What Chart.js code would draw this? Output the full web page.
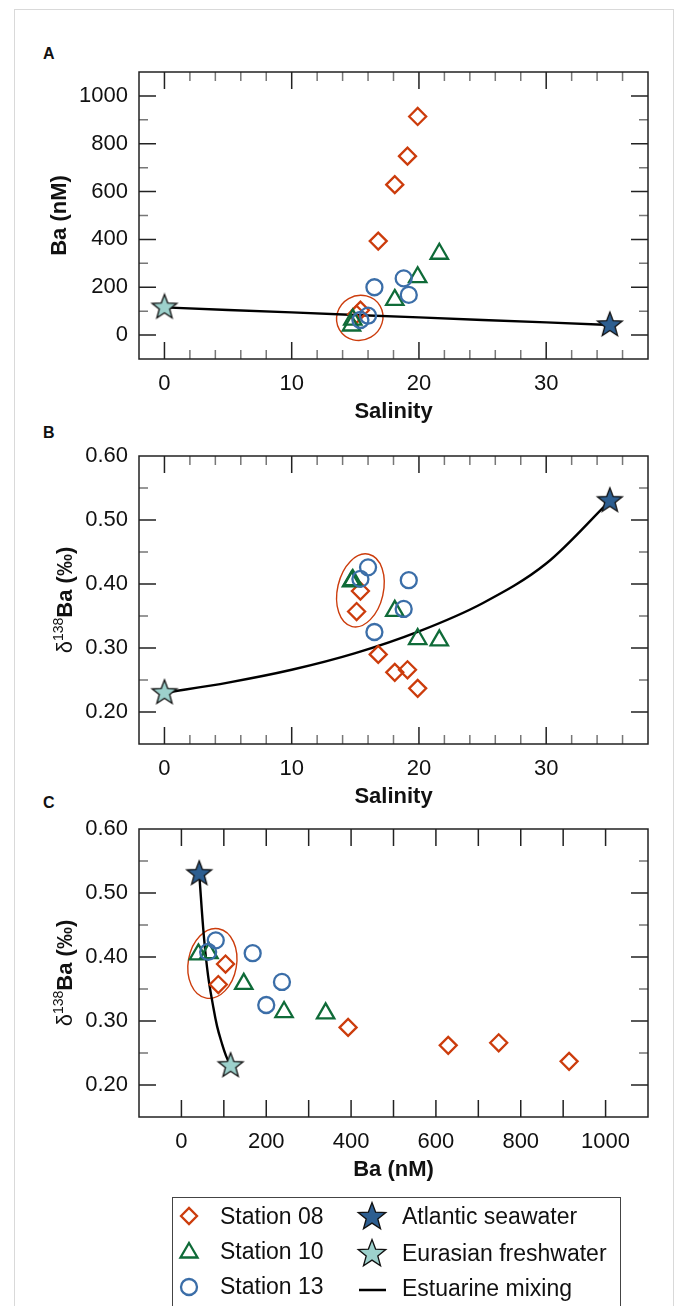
<!DOCTYPE html>
<html>
<head>
<meta charset="utf-8">
<title>Ba and d138Ba mixing</title>
<script src="https://cdn.jsdelivr.net/npm/chart.js@4.4.1/dist/chart.umd.min.js"></script>
<style>
  html, body { margin: 0; padding: 0; background: #fff; }
  body { width: 676px; height: 1306px; position: relative; overflow: hidden; font-family: "Liberation Sans", Arial, sans-serif; color: #111; }
  .page { position: absolute; left: 14px; top: 9px; width: 660px; height: 1340px; border: 1px solid #d9d9d9; box-sizing: border-box; }
  canvas.panel { position: absolute; left: 0; }
  .letter { position: absolute; left: 43px; font-weight: bold; font-size: 16px; line-height: 16px; }
  .legend { position: absolute; left: 172px; top: 1197px; width: 449px; height: 140px; border: 1px solid #444; box-sizing: border-box; }
  .item { position: absolute; font-size: 23px; line-height: 26px; white-space: nowrap; }
  svg.icons { position: absolute; left: 0; top: 0; }
</style>
</head>
<body>
<div class="page"></div>
<div class="letter" style="top:46px">A</div>
<div class="letter" style="top:425px">B</div>
<div class="letter" style="top:795px">C</div>
<canvas id="chartA" class="panel" width="676" height="425" style="top:0px"></canvas>
<canvas id="chartB" class="panel" width="676" height="384" style="top:426px"></canvas>
<canvas id="chartC" class="panel" width="676" height="384" style="top:799px"></canvas>

<div class="legend"></div>
<svg class="icons" width="676" height="1306" id="legendIcons"></svg>
<div class="item" style="left:220px; top:1203px">Station 08</div>
<div class="item" style="left:220px; top:1238px">Station 10</div>
<div class="item" style="left:220px; top:1273px">Station 13</div>
<div class="item" style="left:402px; top:1203px">Atlantic seawater</div>
<div class="item" style="left:402px; top:1240px">Eurasian freshwater</div>
<div class="item" style="left:402px; top:1275px">Estuarine mixing</div>

<script>
// values
const sal08 = [15.4, 15.1, 16.8, 18.1, 19.1, 19.9];
const ba08 = [104, 87, 393, 629, 748, 914];
const d08 = [0.389, 0.357, 0.290, 0.262, 0.266, 0.237];

const sal10 = [14.7, 14.8, 18.1, 19.9, 21.6];
const ba10 = [40, 65, 147, 242, 340];
const d10 = [0.404, 0.406, 0.358, 0.314, 0.312];

const sal13 = [16.0, 15.4, 19.2, 18.8, 16.5];
const ba13 = [81, 63, 168, 237, 200];
const d13 = [0.426, 0.408, 0.406, 0.361, 0.325];

const salAtl = [35];
const baAtl = [42];
const dAtl = [0.53];

const salEur = [0];
const baEur = [116];
const dEur = [0.23];

const salMix = [0, 5, 10, 15, 20, 25, 30, 35];
const baMix = [116, 105, 95, 84, 74, 63, 53, 42];
const dMix = [0.230, 0.246, 0.266, 0.292, 0.326, 0.370, 0.432, 0.530];

const salTicks = [0, 10, 20, 30];
const baTicks = [0, 200, 400, 600, 800, 1000];
const deltaTicks = [0.2, 0.3, 0.4, 0.5, 0.6];

const c08 = '#cc3c0c';
const c10 = '#0f6b38';
const c13 = '#3b6ea8';
const atlFill = '#2d5e90';
const eurFill = '#9dd1cc';
const FONT = '"Liberation Sans", Arial, sans-serif';

Chart.defaults.font.family = FONT;
Chart.defaults.color = '#111';

function starPath(g, cx, cy, R) {
  g.beginPath();
  for (let k = 0; k < 10; k++) {
    const r = k % 2 === 0 ? R : R * 0.42;
    const a = -Math.PI / 2 + k * Math.PI / 5;
    g.lineTo(cx + r * Math.cos(a), cy + r * Math.sin(a));
  }
  g.closePath();
}

function makeStar(fill, R) {
  const size = Math.ceil(R * 2 + 4);
  const c = document.createElement('canvas');
  c.width = size;
  c.height = size;
  const g = c.getContext('2d');
  starPath(g, size / 2, size / 2, R);
  g.fillStyle = fill;
  g.fill();
  g.lineWidth = 1.3;
  g.strokeStyle = '#111';
  g.lineJoin = 'miter';
  g.stroke();
  return c;
}

const atlStar = makeStar(atlFill, 13);
const eurStar = makeStar(eurFill, 13);

function pts(xs, ys) {
  return xs.map((x, k) => ({ x: x, y: ys[k] }));
}

// inward ticks on all four sides + box
const framePlugin = {
  id: 'frame',
  beforeDatasetsDraw(chart, args, opts) {
    const { ctx, chartArea: a } = chart;
    const xs = chart.scales.x;
    const ys = chart.scales.y;
    ctx.save();
    ctx.lineWidth = 1.5;

    function marks(scale, step, major, len, color, isX) {
      if (!step) return;
      ctx.strokeStyle = color;
      ctx.beginPath();
      const n0 = Math.ceil(scale.min / step - 1e-6);
      const n1 = Math.floor(scale.max / step + 1e-6);
      for (let n = n0; n <= n1; n++) {
        const v = n * step;
        if (major && Math.abs(v / major - Math.round(v / major)) < 1e-6 && step !== major) continue;
        const p = scale.getPixelForValue(v);
        if (isX) {
          if (p < a.left + 2 || p > a.right - 2) continue;
          ctx.moveTo(p, a.bottom); ctx.lineTo(p, a.bottom - len);
          ctx.moveTo(p, a.top); ctx.lineTo(p, a.top + len);
        } else {
          if (p < a.top + 2 || p > a.bottom - 2) continue;
          ctx.moveTo(a.left, p); ctx.lineTo(a.left + len, p);
          ctx.moveTo(a.right, p); ctx.lineTo(a.right - len, p);
        }
      }
      ctx.stroke();
    }

    marks(xs, opts.xMinor, opts.xMajor, 9, '#777', true);
    marks(ys, opts.yMinor, opts.yMajor, 9, '#777', false);
    marks(xs, opts.xMajor, opts.xMajor, 17, '#222', true);
    marks(ys, opts.yMajor, opts.yMajor, 17, '#222', false);

    ctx.strokeStyle = '#222';
    ctx.strokeRect(a.left, a.top, a.right - a.left, a.bottom - a.top);
    ctx.restore();
  }
};

// red outline around the sub-group of samples
const ringPlugin = {
  id: 'ring',
  beforeDatasetsDraw(chart, args, opts) {
    const xs = chart.scales.x;
    const ys = chart.scales.y;
    const ctx = chart.ctx;
    const px = xs.getPixelForValue(opts.cx);
    const py = ys.getPixelForValue(opts.cy);
    const rx = Math.abs(xs.getPixelForValue(opts.cx + opts.rx) - px);
    const ry = Math.abs(ys.getPixelForValue(opts.cy + opts.ry) - py);
    ctx.save();
    ctx.beginPath();
    ctx.ellipse(px, py, rx, ry, opts.rot * Math.PI / 180, 0, Math.PI * 2);
    ctx.strokeStyle = c08;
    ctx.lineWidth = 1.4;
    ctx.stroke();
    ctx.restore();
  }
};

// rotated y title with mixed fonts
const yTitlePlugin = {
  id: 'yTitle',
  afterDraw(chart, args, opts) {
    const { ctx, chartArea } = chart;
    ctx.save();
    let total = 0;
    const widths = opts.parts.map(p => {
      ctx.font = p.font;
      const w = ctx.measureText(p.text).width;
      total += w;
      return w;
    });
    ctx.translate(opts.x, (chartArea.top + chartArea.bottom) / 2);
    ctx.rotate(-Math.PI / 2);
    ctx.fillStyle = '#111';
    ctx.textBaseline = 'alphabetic';
    let cur = -total / 2;
    opts.parts.forEach((p, k) => {
      ctx.font = p.font;
      ctx.fillText(p.text, cur, 8 + (p.rise || 0));
      cur += widths[k];
    });
    ctx.restore();
  }
};

function makePanel(id, cfg) {
  const ctx = document.getElementById(id).getContext('2d');
  const tickFont = { size: 22, family: FONT };

  const datasets = [
    { label: 'Atlantic seawater', data: cfg.atl, pointStyle: atlStar, pointRadius: 12 },
    { label: 'Eurasian freshwater', data: cfg.eur, pointStyle: eurStar, pointRadius: 12 },
    { label: 'Station 13', data: cfg.s13, pointStyle: 'circle', pointRadius: 8,
      borderColor: c13, backgroundColor: 'rgba(0,0,0,0)', pointBorderWidth: 2.3 },
    { label: 'Station 10', data: cfg.s10, pointStyle: 'triangle', pointRadius: 10,
      borderColor: c10, backgroundColor: 'rgba(0,0,0,0)', pointBorderWidth: 2.3 },
    { label: 'Station 08', data: cfg.s08, pointStyle: 'rectRot', pointRadius: 8.5,
      borderColor: c08, backgroundColor: 'rgba(0,0,0,0)', pointBorderWidth: 2.3 },
    { label: 'Estuarine mixing', data: cfg.mix, showLine: true, pointRadius: 0,
      borderColor: '#000', borderWidth: 2.4, tension: cfg.tension,
      cubicInterpolationMode: cfg.curveMode, fill: false }
  ];

  return new Chart(ctx, {
    type: 'scatter',
    data: { datasets: datasets },
    options: {
      responsive: false,
      animation: false,
      devicePixelRatio: 1,
      layout: { padding: { top: cfg.padTop, right: 28, left: 0, bottom: 0 } },
      scales: {
        x: {
          type: 'linear',
          min: cfg.xMin,
          max: cfg.xMax,
          grid: { display: false, drawTicks: false },
          border: { display: false },
          ticks: { font: tickFont, color: '#111', padding: 12, autoSkip: false, maxRotation: 0,
                   callback: v => String(v) },
          afterBuildTicks: s => { s.ticks = cfg.xTicks.map(v => ({ value: v })); },
          afterFit: s => { s.height = 66; },
          title: { display: true, text: cfg.xTitle, color: '#111',
                   font: { size: 22, weight: 'bold', family: FONT }, padding: { top: 0, bottom: 0 } }
        },
        y: {
          type: 'linear',
          min: cfg.yMin,
          max: cfg.yMax,
          grid: { display: false, drawTicks: false },
          border: { display: false },
          ticks: { font: tickFont, color: '#111', padding: 11, autoSkip: false,
                   callback: cfg.yFormat },
          afterBuildTicks: s => { s.ticks = cfg.yTicks.map(v => ({ value: v })); },
          afterFit: s => { s.width = 139; }
        }
      },
      plugins: {
        legend: { display: false },
        tooltip: { enabled: false },
        frame: cfg.frame,
        ring: cfg.ring,
        yTitle: cfg.yTitle
      }
    },
    plugins: [framePlugin, ringPlugin, yTitlePlugin]
  });
}

const deltaTitle = {
  x: 64,
  parts: [
    { text: '\u03B4', font: '22px ' + FONT },
    { text: '138', font: '14px ' + FONT, rise: -9 },
    { text: 'Ba (\u2030)', font: 'bold 22px ' + FONT }
  ]
};

makePanel('chartA', {
  padTop: 72,
  xMin: -2, xMax: 38, yMin: -100, yMax: 1100,
  xTicks: salTicks, yTicks: baTicks,
  yFormat: v => String(v),
  xTitle: 'Salinity',
  s08: pts(sal08, ba08), s10: pts(sal10, ba10), s13: pts(sal13, ba13),
  atl: pts(salAtl, baAtl), eur: pts(salEur, baEur),
  mix: pts(salMix, baMix), tension: 0, curveMode: 'default',
  frame: { xMajor: 10, xMinor: 2, yMajor: 200, yMinor: 100 },
  ring: { cx: 15.35, cy: 72, rx: 1.85, ry: 93, rot: -30 },
  yTitle: { x: 58, parts: [{ text: 'Ba (nM)', font: 'bold 22px ' + FONT }] }
});

makePanel('chartB', {
  padTop: 30,
  xMin: -2, xMax: 38, yMin: 0.15, yMax: 0.6,
  xTicks: salTicks, yTicks: deltaTicks,
  yFormat: v => v.toFixed(2),
  xTitle: 'Salinity',
  s08: pts(sal08, d08), s10: pts(sal10, d10), s13: pts(sal13, d13),
  atl: pts(salAtl, dAtl), eur: pts(salEur, dEur),
  mix: pts(salMix, dMix), tension: 0.4, curveMode: 'monotone',
  frame: { xMajor: 10, xMinor: 2, yMajor: 0.1, yMinor: 0.05 },
  ring: { cx: 15.4, cy: 0.39, rx: 1.8, ry: 0.058, rot: 13 },
  yTitle: deltaTitle
});

makePanel('chartC', {
  padTop: 30,
  xMin: -100, xMax: 1100, yMin: 0.15, yMax: 0.6,
  xTicks: baTicks, yTicks: deltaTicks,
  yFormat: v => v.toFixed(2),
  xTitle: 'Ba (nM)',
  s08: pts(ba08, d08), s10: pts(ba10, d10), s13: pts(ba13, d13),
  atl: pts(baAtl, dAtl), eur: pts(baEur, dEur),
  mix: pts(baMix, dMix), tension: 0.4, curveMode: 'default',
  frame: { xMajor: 100, xMinor: 0, yMajor: 0.1, yMinor: 0.05 },
  ring: { cx: 73, cy: 0.39, rx: 57, ry: 0.055, rot: 10 },
  yTitle: deltaTitle
});

// legend icons
function legendIcons() {
  const svg = document.getElementById('legendIcons');
  const ns = 'http://www.w3.org/2000/svg';
  function add(tag, attrs) {
    const el = document.createElementNS(ns, tag);
    Object.keys(attrs).forEach(k => el.setAttribute(k, attrs[k]));
    svg.appendChild(el);
  }
  function starPoints(cx, cy, R) {
    const p = [];
    for (let k = 0; k < 10; k++) {
      const r = k % 2 === 0 ? R : R * 0.42;
      const a = -Math.PI / 2 + k * Math.PI / 5;
      p.push((cx + r * Math.cos(a)).toFixed(2) + ',' + (cy + r * Math.sin(a)).toFixed(2));
    }
    return p.join(' ');
  }
  const r1 = 1216, r2 = 1252, r3 = 1287;
  add('polygon', { points: '181,' + r1 + ' 189,' + (r1 - 8) + ' 197,' + r1 + ' 189,' + (r1 + 8),
    fill: 'none', stroke: c08, 'stroke-width': 2.3 });
  add('polygon', { points: '189,' + (r2 - 9) + ' 197.5,' + (r2 + 5.5) + ' 180.5,' + (r2 + 5.5),
    fill: 'none', stroke: c10, 'stroke-width': 2.3 });
  add('circle', { cx: 189, cy: r3, r: 8, fill: 'none', stroke: c13, 'stroke-width': 2.3 });
  add('polygon', { points: starPoints(372, r1 + 1, 14.5), fill: atlFill, stroke: '#111', 'stroke-width': 1.3 });
  add('polygon', { points: starPoints(372, r2 + 2, 14.5), fill: eurFill, stroke: '#111', 'stroke-width': 1.3 });
  add('line', { x1: 359, y1: r3 + 3, x2: 386, y2: r3 + 3, stroke: '#000', 'stroke-width': 2.5 });
}

legendIcons();
</script>
</body>
</html>
